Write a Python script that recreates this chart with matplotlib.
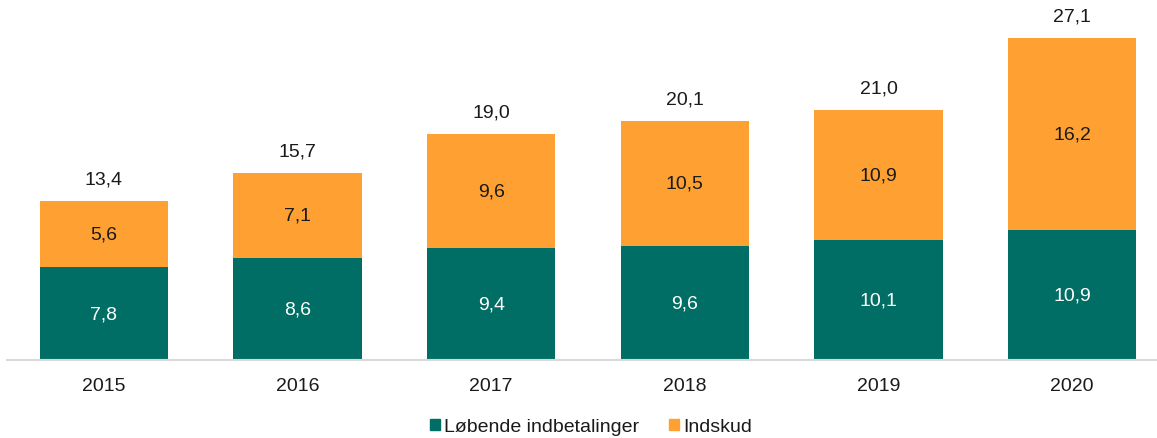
import matplotlib
matplotlib.use("Agg")
import matplotlib.pyplot as plt
from matplotlib.patches import Patch

years = ["2015", "2016", "2017", "2018", "2019", "2020"]
lobende = [7.8, 8.6, 9.4, 9.6, 10.1, 10.9]
indskud = [5.6, 7.1, 9.6, 10.5, 10.9, 16.2]
totals = [13.4, 15.7, 19.0, 20.1, 21.0, 27.1]
series_names = ["Løbende indbetalinger", "Indskud"]

teal = "#006E64"
orange = "#FFA033"

plt.rcParams['font.family'] = ['Liberation Sans', 'DejaVu Sans']

W, H = 1157, 439
fig = plt.figure(figsize=(W/100, H/100), dpi=100)
ax = fig.add_axes([7/W, 78/H, 1150/W, 361/H])

x = list(range(len(years)))
bw = 0.661
ax.bar(x, lobende, width=bw, color=teal, label=series_names[0])
ax.bar(x, indskud, width=bw, bottom=lobende, color=orange, label=series_names[1])

fmt = lambda v: f"{v:.1f}".replace(".", ",")
for i in x:
    ax.text(i, lobende[i]/2, fmt(lobende[i]), ha="center", va="center", color="white", fontsize=14)
    ax.text(i, lobende[i] + indskud[i]/2, fmt(indskud[i]), ha="center", va="center", color="#1a1a1a", fontsize=14)
    ax.annotate(fmt(totals[i]), (i, totals[i]), xytext=(0, 22), textcoords="offset pixels",
                ha="center", va="center", color="#1a1a1a", fontsize=14)

ax.set_xlim(-0.5, 5.5 - 12/193.6)
ax.set_ylim(0, 30.35)
ax.set_xticks(x)
ax.set_xticklabels(years, fontsize=14, color="#1a1a1a")
ax.tick_params(axis="x", length=0, pad=12)
ax.set_yticks([])
for s in ["top", "right", "left"]:
    ax.spines[s].set_visible(False)
ax.spines["bottom"].set_color("#D9D9D9")
ax.spines["bottom"].set_linewidth(1.5)

handles = [Patch(color=teal, label=series_names[0]), Patch(color=orange, label=series_names[1])]
fig.legend(handles=handles, loc="center", bbox_to_anchor=(591/W, 1 - 428/H), ncol=2, frameon=False,
           fontsize=14, handlelength=0.52, handleheight=0.52, handletextpad=0.22, columnspacing=1.5,
           labelcolor="#1a1a1a")

fig.savefig("out.png", dpi=100)
